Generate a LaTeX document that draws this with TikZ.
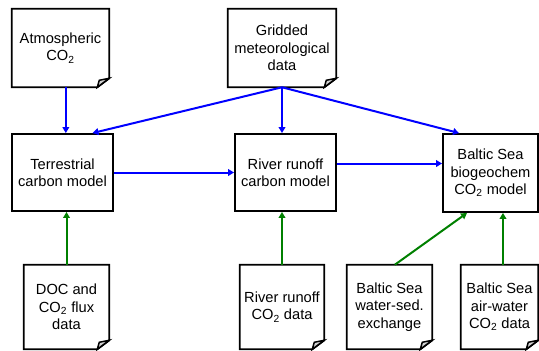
\documentclass[tikz,border=0pt]{standalone}
\usepackage{fontspec}
\setmainfont{Liberation Sans}
\usetikzlibrary{arrows.meta}
% outline of a data sheet with its folded corner
\newcommand{\docsheet}[1]{%
  \draw[line width=1.4pt] (#1.north west) -- (#1.north east) -- ([yshift=6.75pt]#1.south east) -- ([xshift=-9pt]#1.south east) -- (#1.south west) -- cycle;
  \draw[line width=1.1pt,fill=gray!35] ([xshift=-9pt]#1.south east) -- ([xshift=-7.5pt,yshift=5.25pt]#1.south east) -- ([yshift=6.75pt]#1.south east) -- cycle;}
\begin{document}
\begin{tikzpicture}[x=0.75pt,y=-0.75pt,
  every node/.style={font=\fontsize{11}{13}\selectfont,align=center,inner sep=0pt},
  model/.style={draw,line width=1.4pt,minimum height=57.75pt},
  datasheet/.style={minimum height=63pt},
  drive/.style={-{Triangle[length=4.5pt,width=5pt]},line width=1.5pt,blue},
  obs/.style={-{Triangle[length=4.5pt,width=5pt]},line width=1.5pt,green!50!black}]
  \useasboundingbox (0,0) rectangle (539,350);
  % forcing data
  \node[datasheet,minimum width=72.75pt,minimum height=58.5pt] (atm) at (60.5,48) {Atmospheric\\CO\textsubscript{2}};
  \node[datasheet,minimum width=81pt,minimum height=58.5pt] (grid) at (282,48) {Gridded\\meteorological\\data};
  \docsheet{atm} \docsheet{grid}
  % models
  \node[model,minimum width=75.75pt] (terr) at (62.5,172.5) {Terrestrial\\carbon model};
  \node[model,minimum width=75.75pt] (river) at (285.5,172.5) {River runoff\\carbon model};
  \node[model,minimum width=71.25pt,minimum height=58.5pt] (baltic) at (490.5,173) {Baltic Sea\\biogeochem\\CO\textsubscript{2} model};
  % observation data
  \node[datasheet,minimum width=63.75pt] (doc) at (66.5,307) {DOC and\\CO\textsubscript{2} flux\\data};
  \node[datasheet,minimum width=63pt] (rco2) at (282,307) {River runoff\\CO\textsubscript{2} data};
  \node[datasheet,minimum width=63.75pt] (wsed) at (389.5,307) {Baltic Sea\\water-sed.\\exchange};
  \node[datasheet,minimum width=57.75pt] (aw) at (499.5,307) {Baltic Sea\\air-water\\CO\textsubscript{2} data};
  \docsheet{doc} \docsheet{rco2} \docsheet{wsed} \docsheet{aw}
  % model chain
  \draw[drive] ([xshift=4pt]atm.south) -- ([xshift=4pt]atm.south |- terr.north);
  \draw[drive] (grid.south) -- (grid.south |- river.north);
  \draw[drive] (grid.south) -- ([xshift=22.5pt]terr.north);
  \draw[drive] (grid.south) -- ([xshift=12.75pt]baltic.north west);
  \draw[drive] (terr.east) -- (river.west);
  \draw[drive] ([yshift=6.75pt]river.east) -- ([yshift=6.75pt]river.east -| baltic.west);
  % calibration data
  \draw[obs] (doc.north) -- (doc.north |- terr.south);
  \draw[obs] (rco2.north) -- (rco2.north |- river.south);
  \draw[obs] ([xshift=4pt]wsed.north) -- ([xshift=-17.6pt]baltic.south);
  \draw[obs] ([xshift=2.6pt]aw.north) -- ([xshift=2.6pt]aw.north |- baltic.south);
\end{tikzpicture}
\end{document}
